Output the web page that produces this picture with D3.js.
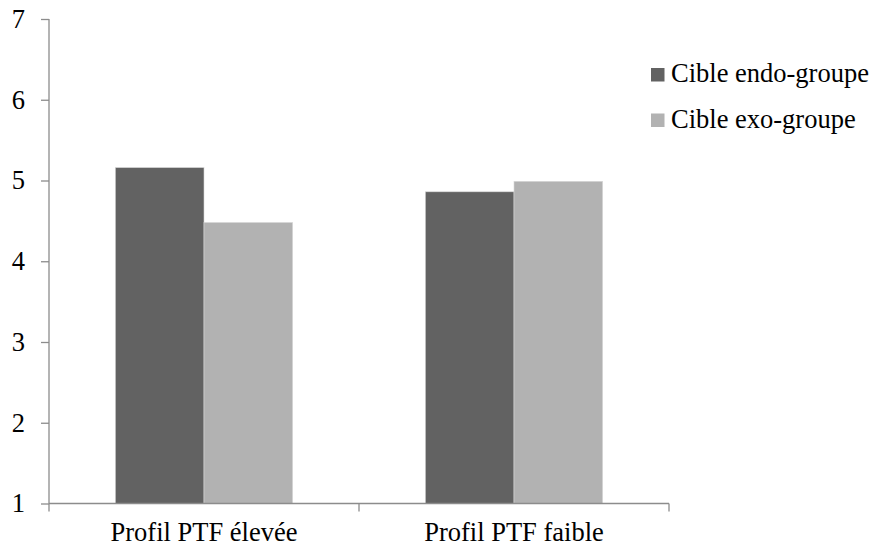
<!DOCTYPE html>
<html><head><meta charset="utf-8">
<script src="https://cdn.jsdelivr.net/npm/d3@7"></script>
<style>body{margin:0;background:#fff}svg{display:block}</style>
</head><body>
<svg id="c" width="873" height="546"></svg>
<script>
const categories = ["Profil PTF élevée", "Profil PTF faible"];
const seriesNames = ["Cible endo-groupe", "Cible exo-groupe"];
const endoValues = [5.16, 4.86];
const exoValues = [4.48, 4.99];
const yTicks = [1, 2, 3, 4, 5, 6, 7];
const colors = ["#626262", "#b2b2b2"];

(function () {
const FONT = "'Liberation Serif', 'Times New Roman', serif";
const FS = "26.5px";
const svg = d3.select("#c");
const mLeft = 49, mRight = 669, mTop = 19, mBottom = 503.5;
const x0 = d3.scaleBand().domain(categories).range([mLeft, mRight]).paddingInner(0.428).paddingOuter(0.214);
const x1 = d3.scaleBand().domain(seriesNames).range([0, x0.bandwidth()]);
const y = d3.scaleLinear().domain([1, 7]).range([mBottom, mTop]);
const series = [endoValues, exoValues];

const g = svg.append("g");
categories.forEach((c, i) => {
  seriesNames.forEach((s, j) => {
    const v = series[j][i];
    g.append("rect")
      .attr("x", x0(c) + x1(s))
      .attr("y", y(v))
      .attr("width", x1.bandwidth())
      .attr("height", y(1) - y(v))
      .attr("fill", colors[j])
      .attr("stroke", "#d8d8d8").attr("stroke-width", 0.6);
  });
});

// y axis
const yAxis = svg.append("g").attr("transform", `translate(${mLeft},0)`)
  .call(d3.axisLeft(y).tickValues(yTicks).tickSize(8).tickPadding(16).tickFormat(d3.format("d")));
yAxis.selectAll("line,path").attr("stroke", "#8c8c8c").attr("stroke-width", 1.3);
yAxis.select(".domain").attr("d", `M0,${mTop}H0V${mBottom}`);
yAxis.selectAll("text").style("font-size", FS).style("font-family", FONT).attr("fill", "#000");

// x axis
const xAxisG = svg.append("g").attr("transform", `translate(0,${mBottom})`);
xAxisG.append("line").attr("x1", mLeft).attr("x2", mRight).attr("y1", 0).attr("y2", 0)
  .attr("stroke", "#8c8c8c").attr("stroke-width", 1.3);
const boundaries = [mLeft, ...categories.slice(1).map(c => x0(c) - x0.step() * x0.paddingInner() / 2), mRight];
boundaries.forEach(b => {
  xAxisG.append("line").attr("x1", b).attr("x2", b).attr("y1", 0).attr("y2", 8)
    .attr("stroke", "#8c8c8c").attr("stroke-width", 1.3);
});
categories.forEach(c => {
  xAxisG.append("text").attr("x", x0(c) + x0.bandwidth() / 2).attr("y", 37.5)
    .attr("text-anchor", "middle").style("font-size", FS).style("font-family", FONT).text(c);
});

// legend
const leg = svg.append("g");
seriesNames.forEach((s, j) => {
  const yy = 68 + j * 45.5;
  leg.append("rect").attr("x", 651).attr("y", yy).attr("width", 13.5).attr("height", 13.5).attr("fill", colors[j]);
  leg.append("text").attr("x", 671).attr("y", yy + 14).style("font-size", FS).style("font-family", FONT).text(s);
});
})();
</script>
</body></html>
